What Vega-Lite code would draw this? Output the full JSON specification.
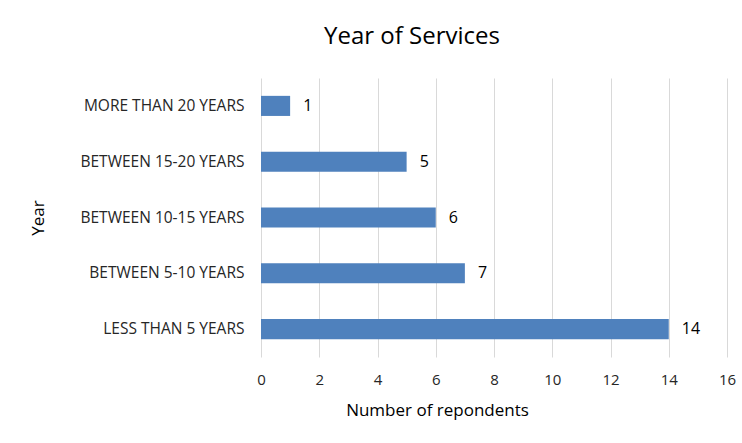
{
  "$schema": "https://vega.github.io/schema/vega-lite/v6.json",
  "width": 466,
  "height": 279,
  "autosize": {"type": "none"},
  "padding": {"left": 261, "top": 78, "right": 15, "bottom": 86},
  "background": "white",
  "title": {
    "text": "Year of Services",
    "font": "Open Sans",
    "fontSize": 24,
    "fontWeight": "normal",
    "color": "#000000",
    "anchor": "middle",
    "frame": "group",
    "dx": -82,
    "offset": 29
  },
  "config": {
    "view": {"stroke": null},
    "font": "Open Sans"
  },
  "data": {
    "values": [
      {"category": "MORE THAN 20 YEARS", "count": 1},
      {"category": "BETWEEN 15-20 YEARS", "count": 5},
      {"category": "BETWEEN 10-15 YEARS", "count": 6},
      {"category": "BETWEEN 5-10 YEARS", "count": 7},
      {"category": "LESS THAN 5 YEARS", "count": 14}
    ]
  },
  "encoding": {
    "y": {
      "field": "category",
      "type": "nominal",
      "sort": null,
      "scale": {"paddingInner": 0.64, "paddingOuter": 0.32},
      "axis": {
        "title": "Year",
        "titleFont": "Open Sans",
        "titleFontSize": 17,
        "titleFontWeight": "normal",
        "titleColor": "#000000",
        "titleX": -223,
        "titleY": 139.5,
        "titleAngle": -90,
        "titleAlign": "center",
        "titleBaseline": "middle",
        "labelFont": "Open Sans",
        "labelFontSize": 15.5,
        "labelColor": "#262626",
        "labelPadding": 17,
        "domain": false,
        "ticks": false
      }
    },
    "x": {
      "field": "count",
      "type": "quantitative",
      "scale": {"domain": [0, 16], "nice": false},
      "axis": {
        "values": [0, 2, 4, 6, 8, 10, 12, 14, 16],
        "title": "Number of repondents",
        "titleFont": "Open Sans",
        "titleFontSize": 17,
        "titleFontWeight": "normal",
        "titleColor": "#000000",
        "titleX": 176,
        "titleY": 53,
        "titleAlign": "center",
        "titleBaseline": "middle",
        "labelFont": "Open Sans",
        "labelFontSize": 15,
        "labelColor": "#262626",
        "labelPadding": 15,
        "labelFlush": false,
        "labelOverlap": false,
        "domain": false,
        "ticks": false,
        "grid": true,
        "gridColor": "#d9d9d9",
        "gridWidth": 1
      }
    }
  },
  "layer": [
    {"mark": {"type": "bar", "color": "#4F81BD"}},
    {
      "mark": {"type": "text", "align": "left", "baseline": "middle", "dx": 13, "fontSize": 16, "color": "#000000", "font": "Open Sans"},
      "encoding": {"text": {"field": "count", "type": "quantitative"}}
    }
  ]
}
